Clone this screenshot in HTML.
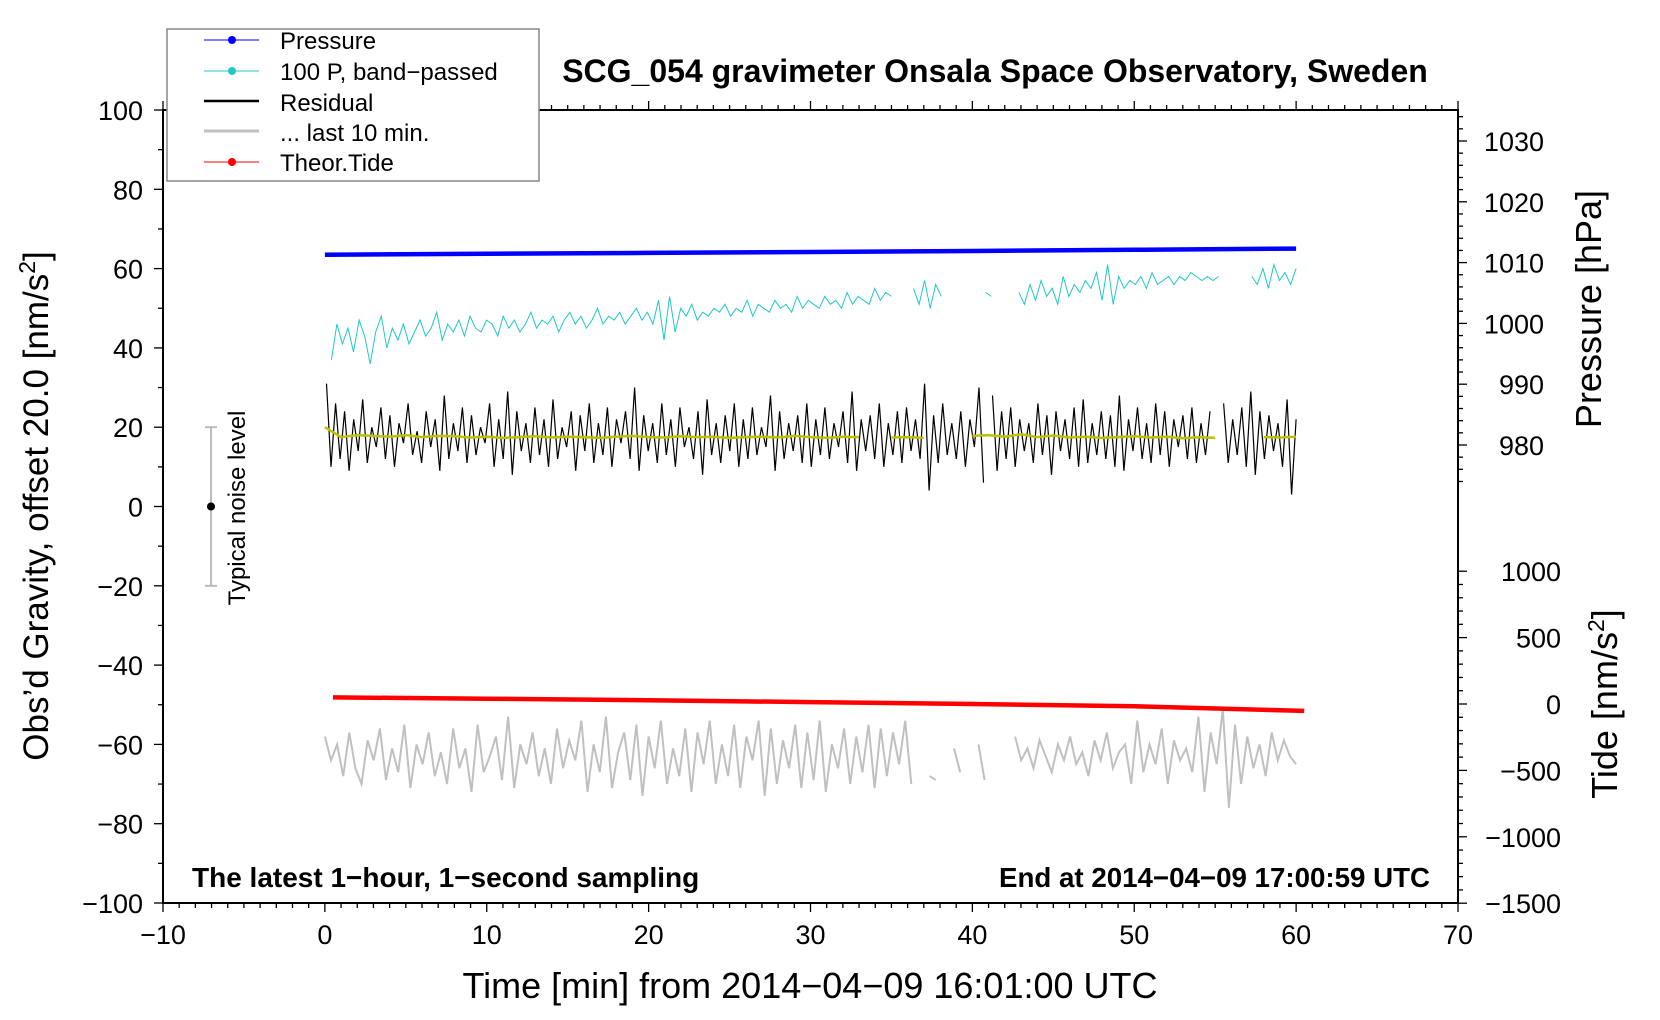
<!DOCTYPE html>
<html><head><meta charset="utf-8">
<style>
html,body{margin:0;padding:0;background:#fff;}
svg{display:block;font-family:"Liberation Sans",sans-serif;}
</style></head>
<body>
<svg id="chart" width="1660" height="1020" viewBox="0 0 1660 1020" xmlns="http://www.w3.org/2000/svg">
<g id="axes"></g>
<g id="series"></g>
<g id="labels"></g>
</svg>
<script>
// ---- data ----
const xTicks = [-10,0,10,20,30,40,50,60,70];
const yTicks = [100,80,60,40,20,0,-20,-40,-60,-80,-100];
const pressureTicks = [1030,1020,1010,1000,990,980];
const tideTicks = [1000,500,0,-500,-1000,-1500];
// pressure (hPa) at times (min)
const pressureT = [0,10,20,30,40,50,60];
const pressureV = [1011.3,1011.45,1011.6,1011.75,1011.9,1012.1,1012.3];
// theoretical tide (nm/s^2)
const tideT = [0.5,10,20,30,40,50,60.5];
const tideV = [50,40,28,14,0,-17,-52];
// 100 P band-passed (left axis units)
const cyanV = [37,46,41,45,39,47,43,36,44,48,40,45,42,46,41,44,47,43,45,49,42,46,44,47,43,48,45,44,47,46,43,48,45,47,44,46,49,45,47,46,48,44,47,49,46,48,45,47,50,46,48,47,49,46,48,50,47,49,46,52,42,53,44,50,48,51,47,49,48,50,49,51,48,50,49,52,48,51,50,49,52,50,51,49,53,50,52,51,50,53,51,52,50,54,51,53,52,51,55,52,54,53,null,null,null,55,51,57,50,56,53,null,null,null,null,null,null,null,54,53,null,null,null,null,54,51,56,52,57,53,55,51,58,53,56,54,57,55,59,52,61,51,58,55,57,56,58,55,59,56,57,58,56,58,57,59,58,57,58,57,58,null,null,null,null,null,58,56,60,55,61,57,59,56,60];
// residual (left axis units)
const residV = [31,10,26,12,24,9,22,14,27,11,20,15,25,12,23,10,21,16,26,13,19,11,24,15,22,9,28,12,21,14,25,11,23,13,20,16,26,10,22,12,29,8,24,14,21,11,25,13,22,10,27,12,20,15,24,9,23,14,26,11,21,13,25,10,22,16,24,12,30,9,23,14,21,11,26,13,22,10,25,15,20,12,24,8,27,13,21,11,23,14,26,10,22,12,25,13,20,15,28,9,24,12,21,14,23,11,26,10,22,13,25,12,21,15,24,11,29,9,22,14,23,12,26,10,21,13,24,11,25,14,22,12,31,4,23,11,26,13,21,12,24,10,22,15,30,6,null,28,9,24,12,25,10,22,14,21,11,26,13,23,8,24,14,22,12,25,10,27,11,21,13,24,12,23,10,28,9,22,14,25,12,21,11,26,13,24,10,22,15,23,12,25,11,21,13,24,null,null,26,11,22,13,25,10,29,8,24,12,23,14,21,10,27,3,22];
// 10-min smoothed residual (yellow), step 1 min
const smoothV = [20,17.5,18,17.8,17.6,18,17.5,17.8,17.7,17.4,17.6,17.3,17.5,17.7,17.4,17.6,17.5,17.3,17.6,17.8,17.5,17.4,17.7,17.5,17.6,17.3,17.5,17.6,17.4,17.8,17.5,17.3,17.6,17.5,null,17.4,17.5,17.3,null,null,17.8,18,17.6,18.2,17.5,17.9,17.4,17.6,17.3,17.5,17.7,17.4,17.6,17.2,17.5,17.3,null,null,17.5,17.4,17.6];
// last 10 min, stretched over 0..60
const grayV = [-58,-64,-60,-68,-57,-66,-70,-59,-64,-56,-69,-61,-67,-55,-71,-60,-65,-57,-68,-62,-70,-56,-66,-61,-72,-55,-67,-63,-58,-69,-53,-71,-60,-65,-57,-68,-61,-70,-56,-66,-59,-64,-54,-72,-60,-67,-53,-71,-62,-57,-69,-55,-73,-58,-66,-54,-70,-61,-68,-56,-72,-57,-65,-54,-70,-60,-68,-55,-71,-58,-64,-54,-73,-56,-70,-59,-66,-55,-71,-57,-69,-54,-72,-60,-66,-56,-70,-58,-67,-55,-71,-56,-68,-57,-65,-54,-70,null,null,-68,-69,null,null,-61,-67,null,null,-60,-69,null,null,null,null,-58,-64,-61,-66,-59,-63,-67,-60,-64,-58,-65,-62,-68,-59,-64,-57,-66,-62,-60,-70,-54,-67,-60,-65,-56,-70,-59,-64,-61,-67,-53,-72,-57,-65,-51,-76,-55,-70,-58,-66,-60,-68,-57,-64,-59,-63,-65];

// ---- scales ----
const L=163, R=1458, T=110, B=903;
const xS = v => L + (v+10)/80*(R-L);
const yS = v => B - (v+100)/200*(B-T);
const pS = v => 141 + (1030-v)/10*60.8;
const tS = v => 704 - v/500*66.4;
const NS="http://www.w3.org/2000/svg";
function mk(parent, tag, attrs){const e=document.createElementNS(NS,tag);for(const k in attrs)e.setAttribute(k,attrs[k]);parent.appendChild(e);return e;}
const axes=document.getElementById('axes'), series=document.getElementById('series');

let fr=mk(axes,'rect',{x:L,y:T,width:R-L,height:B-T,fill:'none',stroke:'#000','stroke-width':2});


for(let v=-10;v<=70;v++){
  const maj=v%10===0, len=maj?9:5;
  mk(axes,'line',{x1:xS(v),x2:xS(v),y1:B,y2:B+len,stroke:'#000','stroke-width':1.3});
  mk(axes,'line',{x1:xS(v),x2:xS(v),y1:T,y2:T-len,stroke:'#000','stroke-width':1.3});
}
xTicks.forEach(v=>{
  const t=mk(axes,'text',{x:xS(v),y:B+41,'font-size':27,'text-anchor':'middle'});
  t.textContent=String(v).replace('-','\u2212');
  
  
});
for(let v=-100;v<=100;v+=10){
  const len=v%20===0?9:5;
  mk(axes,'line',{x1:L-len,x2:L,y1:yS(v),y2:yS(v),stroke:'#000','stroke-width':1.3});
}
yTicks.forEach(v=>{
  const t=mk(axes,'text',{x:L-20,y:yS(v)+10,'font-size':27,'text-anchor':'end'});
  t.textContent=String(v).replace('-','\u2212');
  
  
});
for(let v=974;v<=1034;v+=2){
  const len=v%10===0?9:5;
  mk(axes,'line',{x1:R,x2:R+len,y1:pS(v),y2:pS(v),stroke:'#000','stroke-width':1.3});
}
pressureTicks.forEach(v=>{
  const t=mk(axes,'text',{x:R+86,y:pS(v)+10,'font-size':27,'text-anchor':'end'});
  t.textContent=String(v);
  
  
});
for(let v=-1500;v<=1000;v+=100){
  const len=v%500===0?9:5;
  mk(axes,'line',{x1:R,x2:R+len,y1:tS(v),y2:tS(v),stroke:'#000','stroke-width':1.3});
}
tideTicks.forEach(v=>{
  const t=mk(axes,'text',{x:R+103,y:tS(v)+10,'font-size':27,'text-anchor':'end'});
  t.textContent=String(v).replace('-','\u2212');
  
  
});

function poly(ts, vs, ysc, attrs, name){
  let d='', pen=false;
  for(let i=0;i<vs.length;i++){
    if(vs[i]===null){pen=false;continue;}
    d+=(pen?'L':'M')+xS(ts(i)).toFixed(1)+' '+ysc(vs[i]).toFixed(1);
    pen=true;
  }
  const p=mk(series,'path',Object.assign({d:d,fill:'none'},attrs));
  
  
}
poly(i=>i*60/(grayV.length-1), grayV, yS, {stroke:'#c0c0c0','stroke-width':2}, 'last-10-min-line');
poly(i=>0.4+i*59.6/(cyanV.length-1), cyanV, yS, {stroke:'#20c8c8','stroke-width':1}, 'band-passed-pressure-line');
poly(i=>0.1+i*59.9/(residV.length-1), residV, yS, {stroke:'#000','stroke-width':1.2}, 'residual-line');
poly(i=>i, smoothV, yS, {stroke:'#c0c000','stroke-width':2.5}, 'smoothed-residual-line');
poly(i=>pressureT[i], pressureV, pS, {stroke:'#0000ff','stroke-width':4.5}, 'pressure-line');
poly(i=>tideT[i], tideV, tS, {stroke:'#ff0000','stroke-width':4.5}, 'tide-line');

mk(series,'line',{x1:211,x2:211,y1:yS(20),y2:yS(-20),stroke:'#bbb','stroke-width':2});
mk(series,'line',{x1:205,x2:217,y1:yS(20),y2:yS(20),stroke:'#bbb','stroke-width':2});
mk(series,'line',{x1:205,x2:217,y1:yS(-20),y2:yS(-20),stroke:'#bbb','stroke-width':2});
mk(series,'circle',{cx:211,cy:yS(0),r:4,fill:'#000'});
</script>
<svg style="position:absolute;left:0;top:0" width="1660" height="1020" viewBox="0 0 1660 1020" xmlns="http://www.w3.org/2000/svg" font-family="Liberation Sans, sans-serif">
<text transform="translate(245,508) rotate(-90)" font-size="24" text-anchor="middle">Typical noise level</text>
<text x="995" y="82" font-size="32" font-weight="bold" text-anchor="middle">SCG_054 gravimeter Onsala Space Observatory, Sweden</text>
<text x="192" y="887" font-size="28" font-weight="bold">The latest 1−hour, 1−second sampling</text>
<text x="1430" y="887" font-size="27.7" font-weight="bold" text-anchor="end">End at 2014−04−09 17:00:59 UTC</text>
<text x="810" y="998" font-size="36" text-anchor="middle">Time [min] from 2014−04−09 16:01:00 UTC</text>
<text transform="translate(48,506) rotate(-90)" font-size="35" text-anchor="middle">Obs’d Gravity, offset 20.0 [nm/s<tspan font-size="23" dy="-13">2</tspan><tspan dy="13">]</tspan></text>
<text transform="translate(1601,309) rotate(-90)" font-size="36" text-anchor="middle">Pressure [hPa]</text>
<text transform="translate(1617,704) rotate(-90)" font-size="36" text-anchor="middle">Tide [nm/s<tspan font-size="23" dy="-13">2</tspan><tspan dy="13">]</tspan></text>
<g>
<rect x="167" y="29" width="372" height="152" fill="#fff" stroke="#888" stroke-width="1.5"/>
<g><line x1="204" x2="259" y1="40" y2="40" stroke="#0000ff" stroke-width="1"/><circle cx="232" cy="40" r="4" fill="#0000ff"/><text x="280" y="49" font-size="24">Pressure</text></g>
<g><line x1="204" x2="259" y1="71" y2="71" stroke="#20c8c8" stroke-width="1"/><circle cx="232" cy="71" r="4" fill="#20c8c8"/><text x="280" y="80" font-size="24">100 P, band−passed</text></g>
<g><line x1="204" x2="259" y1="101" y2="101" stroke="#000" stroke-width="2.5"/><text x="280" y="111" font-size="24">Residual</text></g>
<g><line x1="204" x2="259" y1="131" y2="131" stroke="#c0c0c0" stroke-width="3"/><text x="280" y="141" font-size="24">... last 10 min.</text></g>
<g><line x1="204" x2="259" y1="162" y2="162" stroke="#ff0000" stroke-width="1"/><circle cx="232" cy="162" r="4" fill="#ff0000"/><text x="280" y="171" font-size="24">Theor.Tide</text></g>
</g>
</svg>
</body></html>
